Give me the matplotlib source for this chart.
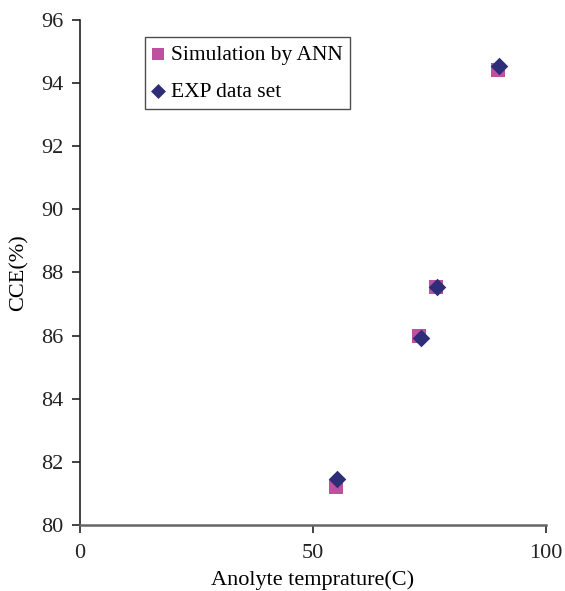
import matplotlib
matplotlib.use("Agg")
import matplotlib.pyplot as plt

# values
temp_ann = [54.9, 72.7, 76.4, 89.7]
cce_ann = [81.2, 86.0, 87.55, 94.43]
temp_exp = [55.2, 73.2, 76.6, 89.9]
cce_exp = [81.47, 85.92, 87.55, 94.55]

plt.rcParams.update({'font.size': 16, 'font.family': ['Liberation Serif', 'DejaVu Serif']})

fig = plt.figure(figsize=(5.65, 5.91), dpi=100)
ax = fig.add_axes([0.1416, 0.1117, 0.8248, 0.8545])

ax.scatter(temp_ann, cce_ann, marker='s', s=100, color='#BF4F9F', label='Simulation by ANN', zorder=2, linewidths=0)
ax.scatter(temp_exp, cce_exp, marker='D', s=80, color='#2E2E78', label='EXP data set', zorder=3, linewidths=0)

ax.set_xlim(0, 100)
ax.set_ylim(80, 96)
ax.set_xticks([0, 50, 100])
ax.set_yticks(range(80, 97, 2))
ax.spines['top'].set_visible(False)
ax.spines['right'].set_visible(False)
ax.spines['left'].set_color('#222222')
ax.spines['left'].set_linewidth(1.2)
ax.spines['bottom'].set_color('#666666')
ax.spines['bottom'].set_linewidth(1.8)
ax.tick_params(direction='out', length=6, width=1.2, color='#222222', labelcolor='#222222')
ax.tick_params(axis='y', pad=6)
ax.tick_params(axis='x', pad=8)

ax.set_xlabel('Anolyte temprature(C)', labelpad=5)
ax.set_ylabel('CCE(%)', labelpad=9)

leg = ax.legend(loc='upper left', bbox_to_anchor=(0.1395, 0.966), borderaxespad=0, frameon=True,
                fancybox=False, edgecolor='#222222', handlelength=0.5, handletextpad=0.35,
                borderpad=0.35, labelspacing=0.78, markerscale=0.85, fontsize=15.5)
leg.get_frame().set_linewidth(1.0)

fig.savefig('out.png', dpi=100)
